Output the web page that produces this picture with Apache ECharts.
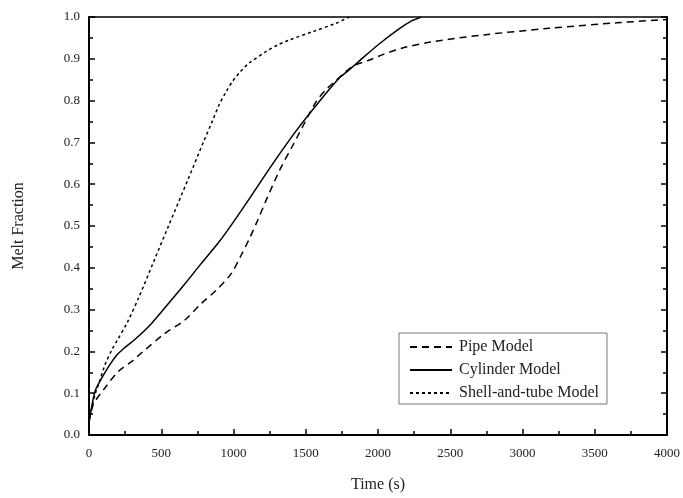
<!DOCTYPE html>
<html>
<head>
<meta charset="utf-8">
<script src="https://cdn.jsdelivr.net/npm/echarts@6/dist/echarts.min.js"></script>
<style>
  html, body { margin: 0; padding: 0; background: #fff; }
  #chart { width: 683px; height: 498px; }
</style>
</head>
<body>
<div id="chart"></div>
<script>
// Melt fraction vs time
const seriesNames = ["Pipe Model", "Cylinder Model", "Shell-and-tube Model"];

const pipeModel = [
  [0, 0.03], [30, 0.073], [111, 0.113], [203, 0.152], [296, 0.176], [376, 0.2],
  [521, 0.242], [660, 0.274], [776, 0.314], [891, 0.35], [984, 0.386], [1053, 0.43],
  [1109, 0.469], [1169, 0.515], [1224, 0.56], [1317, 0.632], [1409, 0.692], [1455, 0.722],
  [1571, 0.797], [1640, 0.826], [1709, 0.848], [1825, 0.882], [1940, 0.897], [2033, 0.91],
  [2171, 0.926], [2379, 0.941], [2726, 0.957], [3188, 0.973], [3650, 0.986], [4000, 0.994]
];

const cylinderModel = [
  [0, 0.03], [12, 0.054], [42, 0.105], [88, 0.136], [140, 0.166], [190, 0.19],
  [240, 0.207], [319, 0.229], [428, 0.265], [544, 0.312], [660, 0.36], [776, 0.41],
  [891, 0.458], [960, 0.49], [1109, 0.565], [1270, 0.648], [1432, 0.727], [1594, 0.798],
  [1732, 0.854], [1802, 0.874], [1871, 0.895], [2010, 0.936], [2148, 0.972],
  [2230, 0.99], [2300, 1.0]
];

const shellTubeModel = [
  [0, 0.03], [12, 0.054], [40, 0.095], [65, 0.12], [111, 0.168], [160, 0.205],
  [203, 0.231], [266, 0.27], [347, 0.331], [450, 0.417], [544, 0.495], [686, 0.612],
  [797, 0.705], [855, 0.752], [901, 0.79], [950, 0.822], [993, 0.846], [1050, 0.87],
  [1109, 0.89], [1224, 0.917], [1305, 0.933], [1386, 0.945], [1548, 0.965],
  [1709, 0.985], [1800, 1.0]
];

const font = "'Liberation Serif', 'DejaVu Serif', serif";
const black = "#000";

const chart = echarts.init(document.getElementById("chart"));

function lineSeries(name, data, type) {
  return {
    name: name,
    type: "line",
    data: data,
    smooth: 0.3,
    symbol: "none",
    showSymbol: false,
    lineStyle: { color: black, width: 1.5, type: type },
    itemStyle: { color: black },
  };
}

const tickStyle = { color: black, width: 1.5 };

chart.setOption({
  animation: false,
  backgroundColor: "#fff",
  grid: { left: 89, right: 15, top: 17, bottom: 61, containLabel: false },
  legend: {
    data: seriesNames,
    orient: "vertical",
    left: 399,
    top: 333,
    borderColor: "#777",
    borderWidth: 1,
    padding: [6, 8, 3, 10],
    itemWidth: 42,
    itemHeight: 14,
    itemGap: 7,
    itemStyle: { opacity: 0 },
    textStyle: { fontFamily: font, fontSize: 16, color: "#222", padding: [0, 0, 0, 2] },
  },
  xAxis: [
    {
      type: "value",
      position: "bottom",
      min: 0,
      max: 4000,
      interval: 500,
      name: "Time (s)",
      nameLocation: "middle",
      nameGap: 42,
      nameTextStyle: { fontFamily: font, fontSize: 16, color: "#222" },
      axisLine: { onZero: false, lineStyle: { color: black, width: 2 } },
      axisTick: { inside: true, length: 6, lineStyle: tickStyle },
      minorTick: { show: true, splitNumber: 2, length: 4, lineStyle: tickStyle },
      axisLabel: { fontFamily: font, fontSize: 13, color: "#222", margin: 12, formatter: (v) => String(v) },
      splitLine: { show: false },
    },
    {
      type: "value",
      position: "top",
      min: 0,
      max: 4000,
      interval: 500,
      axisLine: { show: true, onZero: false, lineStyle: { color: black, width: 1.5 } },
      axisTick: { show: false },
      minorTick: { show: false },
      axisLabel: { show: false },
      splitLine: { show: false },
    },
  ],
  yAxis: [
    {
      type: "value",
      position: "left",
      min: 0,
      max: 1,
      interval: 0.1,
      name: "Melt Fraction",
      nameLocation: "middle",
      nameGap: 62,
      nameTextStyle: { fontFamily: font, fontSize: 16, color: "#222" },
      axisLine: { show: true, onZero: false, lineStyle: { color: black, width: 2 } },
      axisTick: { show: true, inside: true, length: 6, lineStyle: tickStyle },
      minorTick: { show: true, splitNumber: 2, length: 4, lineStyle: tickStyle },
      axisLabel: {
        fontFamily: font,
        fontSize: 13,
        color: "#222",
        margin: 9,
        formatter: (v) => v.toFixed(1),
      },
      splitLine: { show: false },
    },
    {
      type: "value",
      position: "right",
      min: 0,
      max: 1,
      interval: 0.1,
      axisLine: { show: true, onZero: false, lineStyle: { color: black, width: 2 } },
      axisTick: { show: true, inside: true, length: 6, lineStyle: tickStyle },
      minorTick: { show: true, splitNumber: 2, length: 4, lineStyle: tickStyle },
      axisLabel: { show: false },
      splitLine: { show: false },
    },
  ],
  series: [
    lineSeries(seriesNames[0], pipeModel, [7, 5]),
    lineSeries(seriesNames[1], cylinderModel, "solid"),
    lineSeries(seriesNames[2], shellTubeModel, [3, 3]),
    // empty series so the frame axes (top / right) are drawn
    { type: "line", xAxisIndex: 1, yAxisIndex: 1, data: [], silent: true },
  ],
});
</script>
</body>
</html>
